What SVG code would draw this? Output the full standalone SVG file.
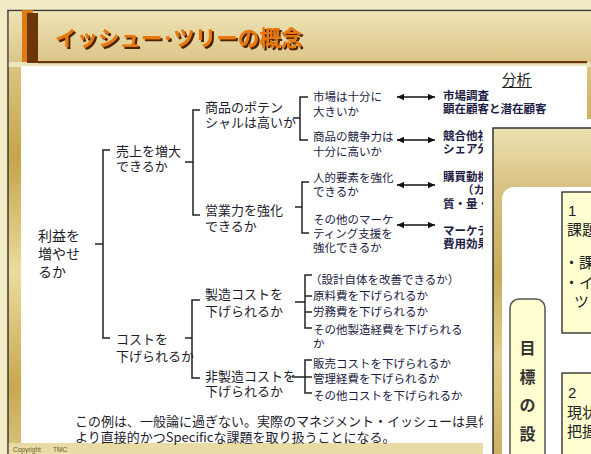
<svg xmlns="http://www.w3.org/2000/svg" width="591" height="454" viewBox="0 0 591 454">
<defs>
<linearGradient id="band" x1="0" y1="0" x2="0" y2="1">
<stop offset="0" stop-color="#EEE3B6"/><stop offset="1" stop-color="#DCC688"/>
</linearGradient>
<linearGradient id="gold" gradientUnits="userSpaceOnUse" x1="0" y1="62" x2="0" y2="443">
<stop offset="0" stop-color="#DCC682"/><stop offset="0.25" stop-color="#C5A44B"/><stop offset="0.55" stop-color="#EBDC9C"/><stop offset="0.85" stop-color="#C8A850"/><stop offset="1" stop-color="#D6BF78"/>
</linearGradient>
<linearGradient id="ov" gradientUnits="userSpaceOnUse" x1="0" y1="128" x2="0" y2="454">
<stop offset="0" stop-color="#EDE2B2"/><stop offset="0.18" stop-color="#D9C283"/><stop offset="0.45" stop-color="#C9AB58"/><stop offset="0.7" stop-color="#E2CF8C"/><stop offset="1" stop-color="#CDB062"/>
</linearGradient>
<filter id="sh" x="-5%" y="-20%" width="115%" height="150%">
<feDropShadow dx="2" dy="2" stdDeviation="0.4" flood-color="#4f2400" flood-opacity="1"/>
</filter>
<marker id="ah" viewBox="0 0 10 10" refX="10" refY="5" markerWidth="8" markerHeight="7" markerUnits="userSpaceOnUse" orient="auto-start-reverse">
<path d="M0,0.5 L10,5 L0,9.5 z" fill="#111"/>
</marker>
</defs>
<style>
text{font-family:"Noto Sans CJK JP","Noto Sans",sans-serif;fill:#1d1d2c}
.t0{font-size:14px}
.t1{font-size:13px}
.t3{font-size:11.5px;fill:#1c1c44}
.tr{font-size:11.5px;fill:#1c1c44;font-weight:700}
.note{font-size:13px}
.ln{stroke:#222;stroke-width:1.5;fill:none}
.ar{stroke:#111;stroke-width:1.5;fill:none;marker-start:url(#ah);marker-end:url(#ah)}
.ttl{font-size:21.5px;font-weight:700}
.ov{font-size:15px;fill:#222}
.vt{font-size:16px;fill:#333;text-anchor:middle;font-weight:700}
</style>

<!-- background / slide frame -->
<g id="frame">
<rect x="0" y="0" width="591" height="454" fill="#F3EAC6"/>
<rect x="8" y="10.5" width="590" height="450" fill="url(#gold)" stroke="#3a3a3a" stroke-width="1.5"/>
<rect x="8.8" y="11.3" width="583" height="50.5" fill="url(#band)"/>
<rect x="8.8" y="62" width="583" height="5" fill="#EDE3BD"/>
<rect x="21" y="66" width="566" height="377" fill="#FFFFFF"/>
<rect x="8.8" y="443" width="583" height="11" fill="#E8DBA4"/>
<rect x="22" y="10" width="11" height="52" fill="#E07A12"/>
<rect x="27" y="13" width="11" height="50" fill="#6B3608"/>
<rect x="38" y="61" width="549" height="2.2" fill="#6B3608"/>
<text class="ttl" x="55" y="46" filter="url(#sh)" style="fill:#E8780F">イッシュー･ツリーの概念</text>
<text x="13" y="452" style="font-size:6.5px;fill:#6b5a2c;font-family:'Liberation Sans',sans-serif">Copyright<tspan x="53">TMC</tspan></text>
</g>

<!-- connectors -->
<g id="connectors">
<path class="ln" d="M95,244 H103 M110,150 H103 V338 H110"/>
<path class="ln" d="M185,162 H193 M200,110 H193 V215 H200"/>
<path class="ln" d="M185,338 H192 M200,300 H192 V378 H200"/>
<path class="ln" d="M293,118 H300 M308,97 H300 V140 H308"/>
<path class="ln" d="M295,207 H302 M309,182 H302 V233 H309"/>
<path class="ln" d="M295,302 H305 M312,275 H305 V328 H312 M305,296 H312 M305,312 H312"/>
<path class="ln" d="M292,377 H312 M312,360 H305 V393 H312"/>
<line class="ar" x1="397" y1="97" x2="435" y2="97"/>
<line class="ar" x1="397" y1="140" x2="435" y2="140"/>
<line class="ar" x1="397" y1="185" x2="435" y2="185"/>
<line class="ar" x1="397" y1="225" x2="435" y2="225"/>
</g>

<g id="root"><text class="t0" x="38" y="241">利益を<tspan x="38" dy="18">増やせ</tspan><tspan x="38" dy="18">るか</tspan></text></g>
<g id="n-sales"><text class="t1" x="116" y="156">売上を増大<tspan x="116" dy="15">できるか</tspan></text></g>
<g id="n-cost"><text class="t1" x="116" y="344">コストを<tspan x="116" dy="17">下げられるか</tspan></text></g>
<g id="n-potential"><text class="t1" x="205" y="112">商品のポテン<tspan x="205" dy="15">シャルは高いか</tspan></text></g>
<g id="n-salesforce"><text class="t1" x="205" y="215">営業力を強化<tspan x="205" dy="16">できるか</tspan></text></g>
<g id="n-mfg"><text class="t1" x="205" y="299">製造コストを<tspan x="205" dy="17">下げられるか</tspan></text></g>
<g id="n-nonmfg"><text class="t1" x="205" y="381">非製造コストを<tspan x="205" dy="15">下げられるか</tspan></text></g>

<g id="n-market"><text class="t3" x="313" y="101">市場は十分に<tspan x="313" dy="15">大きいか</tspan></text></g>
<g id="n-compete"><text class="t3" x="313" y="141">商品の競争力は<tspan x="313" dy="15">十分に高いか</tspan></text></g>
<g id="n-people"><text class="t3" x="313" y="182">人的要素を強化<tspan x="313" dy="14">できるか</tspan></text></g>
<g id="n-mkt"><text class="t3" x="313" y="224">その他のマーケ<tspan x="313" dy="14">ティング支援を</tspan><tspan x="313" dy="14">強化できるか</tspan></text></g>
<g id="n-design"><text class="t3" x="310" y="284">（設計自体を改善できるか）</text></g>
<g id="n-material"><text class="t3" x="313" y="300">原料費を下げられるか</text></g>
<g id="n-labor"><text class="t3" x="313" y="316">労務費を下げられるか</text></g>
<g id="n-othermfg"><text class="t3" x="313" y="334">その他製造経費を下げられる<tspan x="313" dy="14">か</tspan></text></g>
<g id="n-salescost"><text class="t3" x="313" y="368">販売コストを下げられるか</text></g>
<g id="n-admin"><text class="t3" x="313" y="383">管理経費を下げられるか</text></g>
<g id="n-othercost"><text class="t3" x="313" y="400">その他コストを下げられるか</text></g>

<g id="analysis">
<text x="502" y="85" style="font-size:14.5px;fill:#222">分析</text>
<line x1="502" y1="87.5" x2="532" y2="87.5" stroke="#222" stroke-width="1"/>
<g id="a-market"><text class="tr" x="443" y="100">市場調査<tspan x="443" dy="13">顕在顧客と潜在顧客</tspan></text></g>
<g id="a-compete"><text class="tr" x="443" y="140">競合他社比較<tspan x="443" dy="13">シェア分析</tspan></text></g>
<g id="a-people"><text class="tr" x="443" y="181">購買動機分析<tspan x="462" dy="13">（カバレッジ）</tspan><tspan x="443" dy="14">質・量・</tspan></text></g>
<g id="a-mkt"><text class="tr" x="443" y="235">マーケティング<tspan x="443" dy="13">費用効果</tspan></text></g>
</g>

<g id="note">
<text class="note" x="75" y="426">この例は、一般論に過ぎない。実際のマネジメント・イッシューは具体的<tspan x="75" dy="16">より直接的かつSpecificな課題を取り扱うことになる。</tspan></text>
</g>

<!-- overlapping second slide -->
<g id="overlay">
<rect x="483" y="119" width="108" height="335" fill="#FFFFFF"/>
<rect x="493" y="128" width="110" height="340" fill="url(#ov)" stroke="#333" stroke-width="1.5"/>
<rect x="502" y="187" width="120" height="300" rx="12" fill="#FFFFFF"/>
<g id="box1">
<rect x="562" y="192" width="60" height="141" fill="#FFFFD2" stroke="#333" stroke-width="1.4"/>
<text class="ov" x="568" y="216" style="font-family:'Liberation Sans',sans-serif">1</text>
<text class="ov" x="567" y="235">課題</text>
<text class="ov" x="564" y="268">・課題<tspan x="564" dy="20">・イシ</tspan><tspan x="574" dy="19">ツリ</tspan></text>
</g>
<g id="box2">
<rect x="562" y="373" width="60" height="100" fill="#FFFFD2" stroke="#333" stroke-width="1.4"/>
<text class="ov" x="568" y="398" style="font-family:'Liberation Sans',sans-serif">2</text>
<text class="ov" x="567" y="418">現状<tspan x="567" dy="19">把握</tspan></text>
</g>
<g id="vbox">
<rect x="510" y="299" width="35" height="180" rx="9" fill="#FFFFD2" stroke="#555" stroke-width="1.5"/>
<text class="vt" x="527.5" y="354">目<tspan x="527.5" dy="29">標</tspan><tspan x="527.5" dy="28">の</tspan><tspan x="527.5" dy="29">設</tspan></text>
</g>
</g>
</svg>
